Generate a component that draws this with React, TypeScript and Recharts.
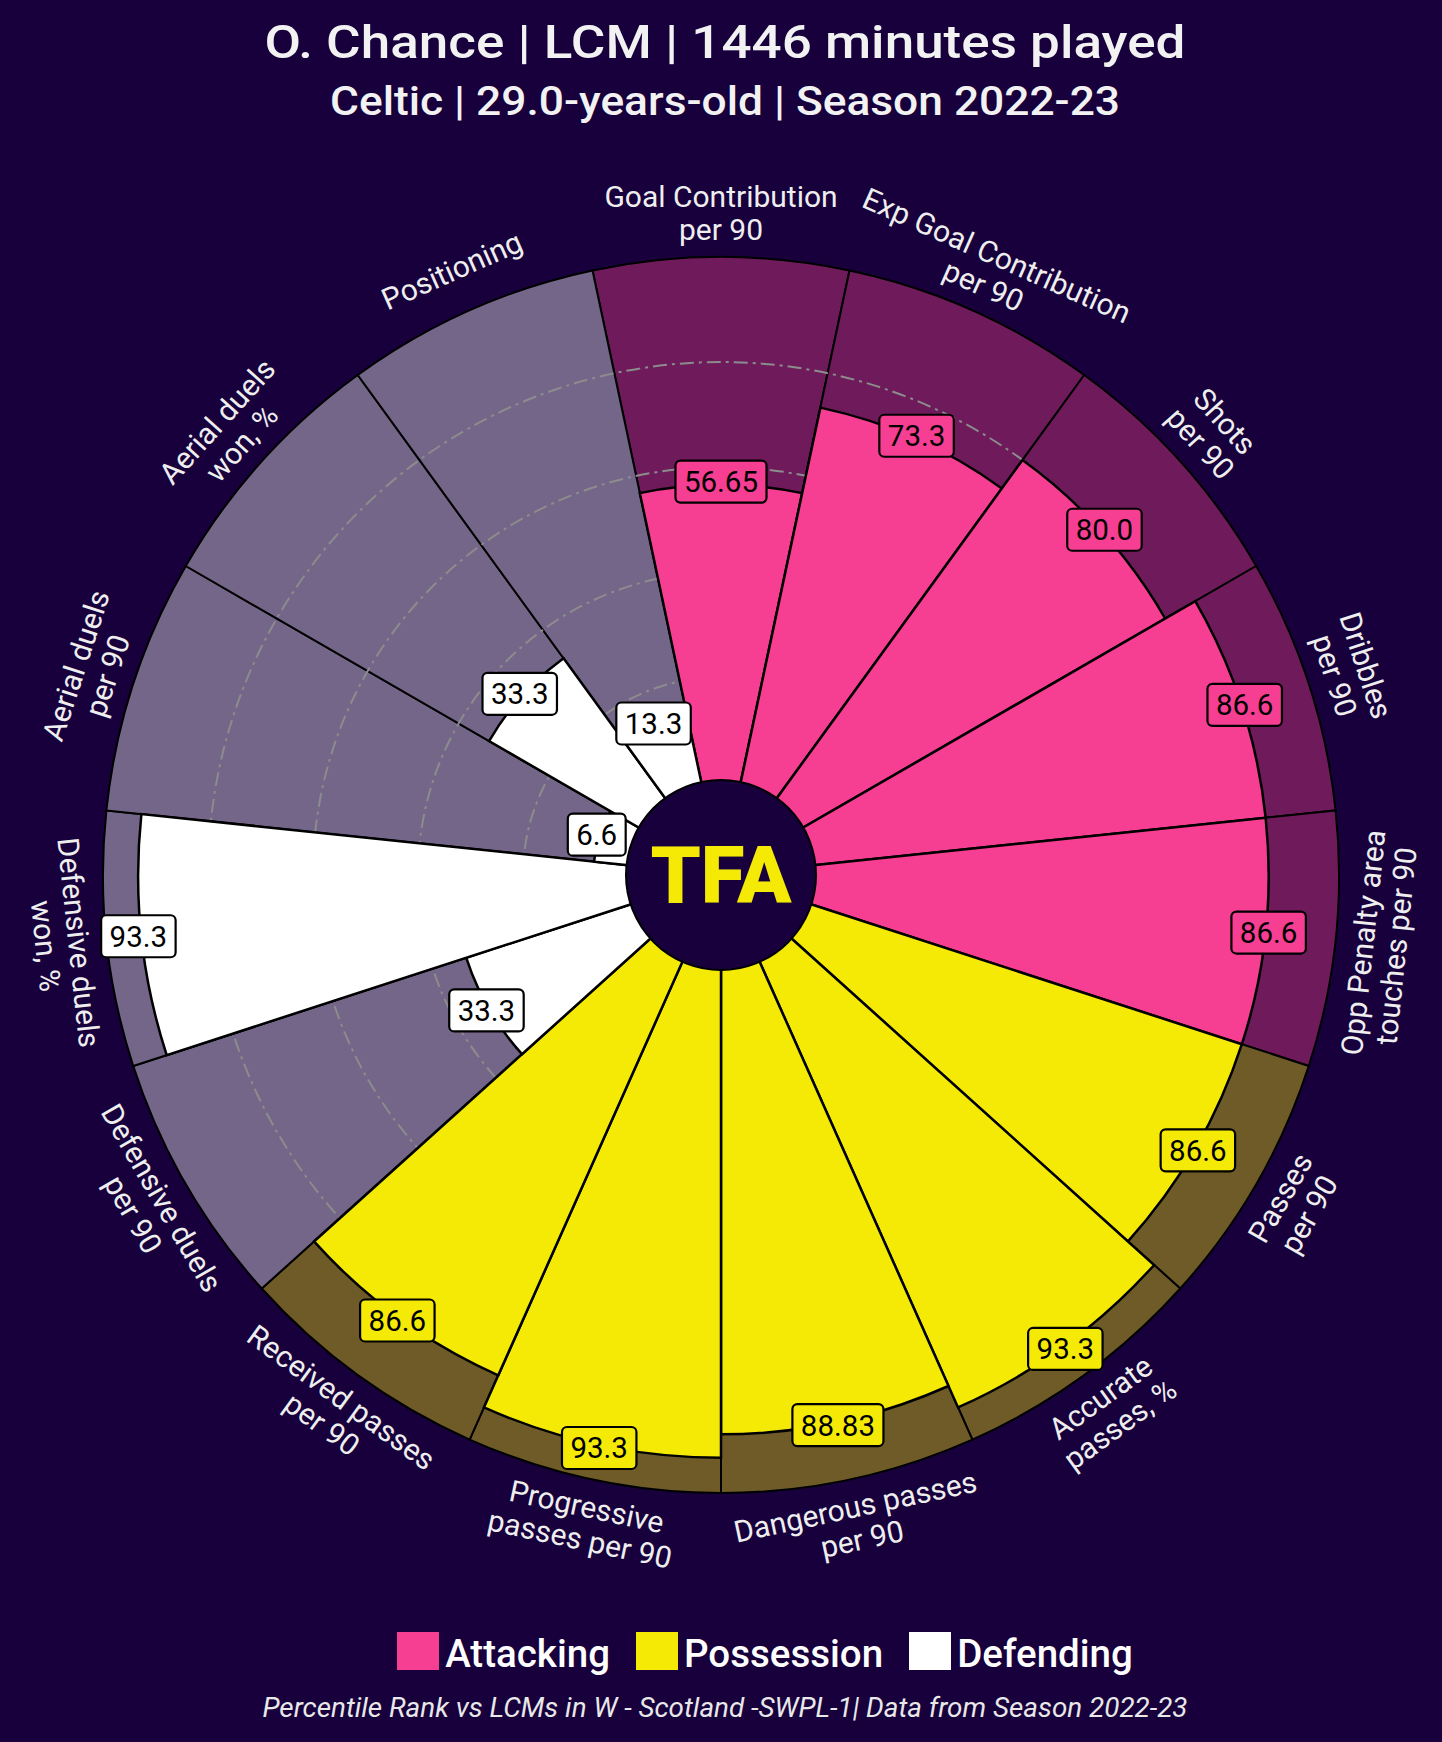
import React from "react";
import {
  RadialBarChart,
  RadialBar,
  PolarAngleAxis,
  PolarRadiusAxis,
  PolarGrid,
  Cell,
  LabelList,
} from "recharts";

// ---------- data ----------
const params = [
  "Goal Contribution\nper 90",
  "Exp Goal Contribution\nper 90",
  "Shots\nper 90",
  "Dribbles\nper 90",
  "Opp Penalty area\ntouches per 90",
  "Passes\nper 90",
  "Accurate\npasses, %",
  "Dangerous passes\nper 90",
  "Progressive\npasses per 90",
  "Received passes\nper 90",
  "Defensive duels\nper 90",
  "Defensive duels\nwon, %",
  "Aerial duels\nper 90",
  "Aerial duels\nwon, %",
  "Positioning",
];
const values = [56.65, 73.3, 80.0, 86.6, 86.6, 86.6, 93.3, 88.83, 93.3, 86.6, 33.3, 93.3, 6.6, 33.3, 13.3];
const groups = [
  "Attacking", "Attacking", "Attacking", "Attacking", "Attacking",
  "Possession", "Possession", "Possession", "Possession", "Possession",
  "Defending", "Defending", "Defending", "Defending", "Defending",
];
const groupNames = ["Attacking", "Possession", "Defending"];
const groupColors = ["#f63e93", "#f4ea06", "#ffffff"];
const groupBgColors = ["#6e1a5b", "#6e5b28", "#736689"];
const gridTicks = [20, 40, 60, 80];
const maxValue = 100;

const titleText = "O. Chance | LCM | 1446 minutes played";
const subtitleText = "Celtic | 29.0-years-old | Season 2022-23";
const footerText = "Percentile Rank vs LCMs in W - Scotland -SWPL-1| Data from Season 2022-23";

// ---------- layout ----------
const W = 1442;
const H = 1742;
const CX = 721;
const CY = 875;
const R_IN = 93;
const R_OUT = 618;
const START = 78;
const END = START - 360;
const BAND = 360 / params.length;
const BG = "#17003c";
const FONT = "Roboto, 'Noto Sans', sans-serif";
const RAD = Math.PI / 180;

const data = params.map((name, i) => ({
  name,
  value: values[i],
  full: maxValue,
  group: groups[i],
}));

const gIdx = (i: number) => groupNames.indexOf(groups[i]);

function ParamTick(props: any) {
  const { payload } = props;
  const cx = props.cx ?? CX;
  const cy = props.cy ?? CY;
  const radius = props.radius ?? R_OUT;
  const angle = payload.coordinate + BAND / 2;
  const r = radius + 44;
  const x = cx + r * Math.cos(angle * RAD);
  const y = cy - r * Math.sin(angle * RAD);
  const a = (((angle % 360) + 540) % 360) - 180;
  const rot = a >= 0 ? 90 - a : -90 - a;
  const lines = String(payload.value).split("\n");
  const lh = 33;
  const fs = 30;
  return (
    <text
      transform={`rotate(${rot} ${x} ${y})`}
      textAnchor="middle"
      fill="#eeeeee"
      fontSize={fs}
      fontFamily={FONT}
    >
      {lines.map((l, i) => (
        <tspan key={i} x={x} y={y + (i - (lines.length - 1) / 2) * lh + fs * 0.36}>
          {l}
        </tspan>
      ))}
    </text>
  );
}

function ValueLabel(props: any) {
  const { viewBox, index } = props;
  if (!viewBox || index == null) return null;
  const v = values[index];
  const txt = Number.isInteger(v) ? v.toFixed(1) : String(v);
  const { cx, cy, outerRadius, startAngle, endAngle } = viewBox;
  const mid = (startAngle + endAngle) / 2;
  const r = outerRadius + 3;
  const x = cx + r * Math.cos(mid * RAD);
  const y = cy - r * Math.sin(mid * RAD);
  const fs = 29.5;
  const tw = txt.split("").reduce((s, c) => s + (c === "." ? 0.262 : 0.562) * fs, 0);
  const bw = tw + 17;
  const bh = 42;
  return (
    <g>
      <rect
        x={x - bw / 2}
        y={y - bh / 2}
        width={bw}
        height={bh}
        rx={5}
        ry={5}
        fill={groupColors[gIdx(index)]}
        stroke="#000"
        strokeWidth={2.2}
      />
      <text x={x} y={y + fs * 0.355} textAnchor="middle" fontSize={fs} fontFamily={FONT} fill="#000">
        {txt}
      </text>
    </g>
  );
}

const chartCommon = {
  width: W,
  height: H,
  cx: CX,
  cy: CY,
  innerRadius: R_IN,
  outerRadius: R_OUT,
  startAngle: START,
  endAngle: END,
  layout: "centric" as const,
  data,
  barCategoryGap: 0,
  barGap: 0,
  margin: { top: 0, right: 0, bottom: 0, left: 0 },
};

const layer: React.CSSProperties = { position: "absolute", left: 0, top: 0, width: W, height: H };

export default function App() {
  return (
    <div style={{ position: "absolute", left: 0, top: 0, width: W, height: H, background: BG, overflow: "hidden" }}>
      {/* titles & footer */}
      <svg style={layer} width={W} height={H}>
        <text
          x={725}
          y={58}
          textAnchor="middle"
          fontSize={47}
          fontWeight={500}
          fontFamily={FONT}
          fill="#f2f2f2"
          textLength={921}
          lengthAdjust="spacingAndGlyphs"
        >
          {titleText}
        </text>
        <text
          x={725}
          y={115}
          textAnchor="middle"
          fontSize={40}
          fontWeight={500}
          fontFamily={FONT}
          fill="#f2f2f2"
          textLength={790}
          lengthAdjust="spacingAndGlyphs"
        >
          {subtitleText}
        </text>
        <text
          x={725}
          y={1717}
          textAnchor="middle"
          fontSize={27}
          fontStyle="italic"
          fontFamily={FONT}
          fill="#e8e8e8"
          textLength={925}
          lengthAdjust="spacingAndGlyphs"
        >
          {footerText}
        </text>
      </svg>

      {/* legend */}
      <div
        style={{
          position: "absolute",
          left: 88,
          width: W - 88,
          top: 1632,
          height: 40,
          display: "flex",
          justifyContent: "center",
          alignItems: "flex-start",
          gap: 26,
          fontFamily: FONT,
        }}
      >
        {groupNames.map((g, i) => (
          <div key={g} style={{ display: "flex", alignItems: "flex-start" }}>
            <div style={{ width: 42, height: 38, background: groupColors[i] }} />
            <div
              style={{
                marginLeft: 6,
                fontSize: 38.5,
                lineHeight: "38px",
                fontWeight: 500,
                color: "#ffffff",
                position: "relative",
                top: 3,
              }}
            >
              {g}
            </div>
          </div>
        ))}
      </div>

      {/* backgrounds + parameter labels */}
      <div style={layer}>
        <RadialBarChart {...chartCommon}>
          <PolarAngleAxis type="category" dataKey="name" tick={(p: any) => <ParamTick {...p} />} axisLine={false} tickLine={false} />
          <PolarRadiusAxis type="number" domain={[0, maxValue]} tick={false} axisLine={false} />
          <RadialBar dataKey="full" isAnimationActive={false} stroke="#000" strokeWidth={2}>
            {data.map((d, i) => (
              <Cell key={i} fill={groupBgColors[gIdx(i)]} />
            ))}
          </RadialBar>
        </RadialBarChart>
      </div>

      {/* grid + values */}
      <div style={layer}>
        <RadialBarChart {...chartCommon}>
          <PolarGrid
            gridType="circle"
            radialLines={false}
            stroke="#8c8c8c"
            strokeWidth={2}
            strokeDasharray="14 5 3 5"
          />
          <PolarAngleAxis type="category" dataKey="name" tick={false} axisLine={false} tickLine={false} />
          <PolarRadiusAxis
            type="number"
            domain={[0, maxValue]}
            ticks={gridTicks}
            tickCount={6}
            tick={false}
            axisLine={false}
          />
          <RadialBar dataKey="value" isAnimationActive={false} stroke="#000" strokeWidth={2.5}>
            {data.map((d, i) => (
              <Cell key={i} fill={groupColors[gIdx(i)]} />
            ))}
            <LabelList dataKey="value" content={(p: any) => <ValueLabel {...p} />} />
          </RadialBar>
        </RadialBarChart>
      </div>

      {/* center logo */}
      <svg style={layer} width={W} height={H}>
        <circle cx={CX} cy={CY} r={95} fill={BG} stroke="#000" strokeWidth={2} />
        <text
          x={CX}
          y={CY + 28}
          textAnchor="middle"
          fontSize={80}
          fontWeight={900}
          fontFamily={FONT}
          fill="#f4ea06"
        >
          TFA
        </text>
      </svg>
    </div>
  );
}
